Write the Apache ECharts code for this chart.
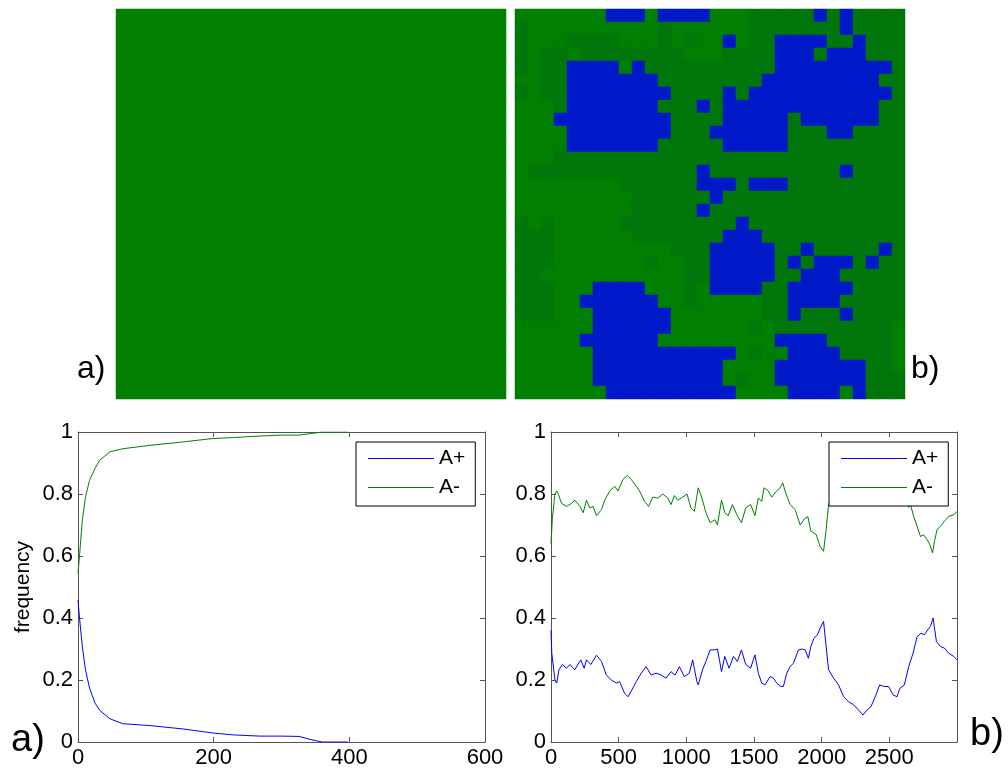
<!DOCTYPE html>
<html>
<head>
<meta charset="utf-8">
<script src="https://cdn.jsdelivr.net/npm/echarts@6/dist/echarts.min.js"></script>
<style>
  html, body { margin: 0; padding: 0; background: #fff; }
  #chart { width: 1008px; height: 773px; }
</style>
</head>
<body>
<div id="chart"></div>
<script>
// Lattice states: B = A+ site, g = A- site, d = A- site (second shade)
const latticeStart = [
  'gggggggggggggggggggggggggggggg',
  'gggggggggggggggggggggggggggggg',
  'gggggggggggggggggggggggggggggg',
  'gggggggggggggggggggggggggggggg',
  'gggggggggggggggggggggggggggggg',
  'gggggggggggggggggggggggggggggg',
  'gggggggggggggggggggggggggggggg',
  'gggggggggggggggggggggggggggggg',
  'gggggggggggggggggggggggggggggg',
  'gggggggggggggggggggggggggggggg',
  'gggggggggggggggggggggggggggggg',
  'gggggggggggggggggggggggggggggg',
  'gggggggggggggggggggggggggggggg',
  'gggggggggggggggggggggggggggggg',
  'gggggggggggggggggggggggggggggg',
  'gggggggggggggggggggggggggggggg',
  'gggggggggggggggggggggggggggggg',
  'gggggggggggggggggggggggggggggg',
  'gggggggggggggggggggggggggggggg',
  'gggggggggggggggggggggggggggggg',
  'gggggggggggggggggggggggggggggg',
  'gggggggggggggggggggggggggggggg',
  'gggggggggggggggggggggggggggggg',
  'gggggggggggggggggggggggggggggg',
  'gggggggggggggggggggggggggggggg',
  'gggggggggggggggggggggggggggggg',
  'gggggggggggggggggggggggggggggg',
  'gggggggggggggggggggggggggggggg',
  'gggggggggggggggggggggggggggggg',
  'gggggggggggggggggggggggggggggg'
];

const latticeMixed = [
  'gggggggBBBgBBBBgggdddddBdBdddd',
  'dggggggggggdggggggdddddddBdddd',
  'dgggddddgggdgdggBgddBBBBddBddd',
  'dgddgddddddddgggddddBBBdBBBddd',
  'dgddBBBBgBddddddddddBBBBBBBBBd',
  'ggddBBBBBBBddddddddBBBBBBBBBdd',
  'dgddBBBBBBBBddddBdBBBBBBBBBBBd',
  'gggdBBBBBBBdddBdBBBBBBBBBBBBdd',
  'gggBBBBBBBBBddddBBBBBdBBBBBBdd',
  'ggggBBBBBBBBdddBBBBBBdddBBdddd',
  'ggggBBBBBBBdddddBBBBBddddddddd',
  'gggddddddddddddddddddddddddddd',
  'gdddddddddddddBddddddddddBdddd',
  'ggggggggddddddBBBdBBBddddddddd',
  'gggggggggddddddBdddddddddddddd',
  'gggggggggdddddBddddddddddddddd',
  'dgdgggggdddddddddBdddddddddddd',
  'dddggggggdddddddBBBddddddddddd',
  'dddgggggggggdddBBBBBddBdddddBd',
  'dddgggggggdggddBBBBBdBdBBBdBdd',
  'ddgggggggggggddBBBBBddBBBddddd',
  'dddgggBBBBgggdgBBBBddBBBBBdddd',
  'dddggBBBBBBggdgggggddBBBBddddd',
  'dddgggBBBBBBgggggggddBdddBdddd',
  'ggggggBBBBBBggggggdgdddddddddg',
  'gggggBBBBBBgggggggggBBBBdddddg',
  'ggggggBBBBBBBBBBBgdggBBBBddddg',
  'ggggggBBBBBBBBBBggggBBBBBBBddg',
  'ggggggBBBBBBBBBBgdggBBBBBBBddd',
  'gggggggBBBBBBBBBBggggBBBBgBddd'
];

// Run a) : time steps and frequencies
const runAX = [0, 2.5, 6.4, 11, 17, 25, 32, 47, 66, 106, 155, 199, 228, 268, 300, 326, 343, 360, 398];
const runAPlus = [0.458, 0.394, 0.308, 0.233, 0.174, 0.126, 0.102, 0.075, 0.059, 0.053, 0.042, 0.029, 0.023, 0.019, 0.019, 0.018, 0.008, 0.0, 0.0];
const runAMinus = [0.544, 0.608, 0.716, 0.79, 0.844, 0.882, 0.909, 0.936, 0.946, 0.957, 0.968, 0.979, 0.982, 0.987, 0.99, 0.99, 0.995, 1.0, 1.0];

// Run b) : time steps and frequencies of A+
const runBPlusX = [0, 6, 29, 42, 59, 83, 115, 140, 176, 220, 245, 262, 294, 336, 373, 409, 446, 483, 507, 544, 569, 598, 630, 667, 703, 740, 777, 814, 850, 887, 917, 949, 985, 1022, 1047, 1078, 1088, 1120, 1145, 1176, 1206, 1230, 1260, 1284, 1316, 1348, 1377, 1407, 1439, 1475, 1507, 1532, 1557, 1581, 1619, 1643, 1668, 1698, 1717, 1742, 1767, 1791, 1828, 1853, 1878, 1902, 1920, 1944, 1969, 1989, 2014, 2033, 2051, 2088, 2125, 2162, 2199, 2236, 2273, 2305, 2335, 2364, 2396, 2428, 2463, 2495, 2527, 2557, 2577, 2611, 2643, 2675, 2705, 2734, 2759, 2784, 2804, 2823, 2848, 2878, 2907, 2939, 2976, 3000];
const runBPlus = [0.36, 0.286, 0.20, 0.19, 0.233, 0.25, 0.238, 0.25, 0.233, 0.265, 0.238, 0.265, 0.25, 0.28, 0.26, 0.216, 0.20, 0.19, 0.195, 0.157, 0.146, 0.168, 0.195, 0.222, 0.243, 0.216, 0.222, 0.216, 0.206, 0.227, 0.216, 0.243, 0.211, 0.222, 0.265, 0.195, 0.184, 0.233, 0.26, 0.297, 0.297, 0.30, 0.227, 0.276, 0.238, 0.276, 0.26, 0.297, 0.25, 0.238, 0.281, 0.222, 0.19, 0.184, 0.211, 0.206, 0.19, 0.179, 0.179, 0.222, 0.243, 0.254, 0.297, 0.30, 0.297, 0.27, 0.308, 0.335, 0.346, 0.367, 0.389, 0.308, 0.233, 0.206, 0.184, 0.146, 0.13, 0.12, 0.103, 0.087, 0.103, 0.114, 0.146, 0.184, 0.179, 0.179, 0.152, 0.146, 0.173, 0.184, 0.243, 0.286, 0.34, 0.351, 0.346, 0.362, 0.373, 0.40, 0.324, 0.308, 0.303, 0.286, 0.276, 0.265];

// Run b) : time steps and frequencies of A-
const runBMinusX = [0, 10, 29, 42, 54, 78, 115, 152, 176, 213, 238, 262, 287, 311, 336, 373, 397, 434, 471, 495, 532, 564, 593, 630, 654, 691, 721, 752, 789, 826, 863, 887, 912, 936, 973, 1005, 1034, 1059, 1088, 1113, 1145, 1176, 1211, 1230, 1260, 1284, 1309, 1341, 1373, 1407, 1439, 1475, 1507, 1532, 1557, 1574, 1606, 1631, 1668, 1693, 1712, 1737, 1767, 1804, 1841, 1873, 1898, 1920, 1959, 1989, 2014, 2033, 2051, 2088, 2125, 2162, 2199, 2236, 2273, 2305, 2335, 2364, 2396, 2428, 2463, 2495, 2527, 2557, 2577, 2611, 2643, 2656, 2680, 2705, 2730, 2754, 2779, 2799, 2819, 2836, 2853, 2878, 2907, 2939, 2976, 3000];
const runBMinus = [0.64, 0.72, 0.80, 0.81, 0.80, 0.77, 0.76, 0.77, 0.78, 0.76, 0.74, 0.78, 0.755, 0.76, 0.73, 0.75, 0.78, 0.81, 0.825, 0.81, 0.847, 0.86, 0.847, 0.825, 0.81, 0.776, 0.76, 0.79, 0.787, 0.80, 0.787, 0.766, 0.795, 0.78, 0.79, 0.80, 0.755, 0.744, 0.82, 0.79, 0.74, 0.707, 0.717, 0.70, 0.78, 0.74, 0.73, 0.766, 0.733, 0.707, 0.755, 0.766, 0.73, 0.787, 0.776, 0.82, 0.81, 0.79, 0.81, 0.82, 0.836, 0.80, 0.766, 0.75, 0.70, 0.72, 0.727, 0.68, 0.67, 0.63, 0.615, 0.685, 0.767, 0.794, 0.816, 0.854, 0.87, 0.88, 0.897, 0.913, 0.897, 0.886, 0.854, 0.816, 0.821, 0.821, 0.848, 0.854, 0.827, 0.816, 0.757, 0.766, 0.728, 0.696, 0.663, 0.668, 0.653, 0.637, 0.61, 0.653, 0.685, 0.696, 0.712, 0.728, 0.733, 0.744];

const seriesNames = ['A+', 'A-'];
const freqTicks = { min: 0, max: 1, interval: 0.2 };
const runATicks = { min: 0, max: 600, interval: 200 };
const runBTicks = { min: 0, max: 3000, interval: 500 };

const FONT = '"Liberation Sans", Arial, sans-serif';
const AXIS_COLOR = '#555';
const COLOR_PLUS = '#0000ff';
const COLOR_MINUS = '#008000';
const stateValue = { B: 0, g: 1, d: 2 };

function latticeData(rows) {
  const out = [];
  rows.forEach((row, r) => {
    for (let c = 0; c < row.length; c++) out.push([c, r, stateValue[row[c]]]);
  });
  return out;
}
function pairs(xs, ys) { return xs.map((x, i) => [x, ys[i]]); }

const cellIndex = latticeStart[0].split('').map((_, i) => i);

function hiddenCategory(gridIndex, inverse) {
  return { gridIndex, type: 'category', data: cellIndex, show: false, inverse: !!inverse,
           axisLine: { show: false }, axisTick: { show: false }, axisLabel: { show: false }, splitLine: { show: false } };
}

function valueAxis(gridIndex, ticks, position, withLabels, extra) {
  return Object.assign({
    gridIndex, type: 'value', position,
    min: ticks.min, max: ticks.max, interval: ticks.interval,
    axisLine: { show: true, onZero: false, lineStyle: { color: AXIS_COLOR, width: 1 } },
    axisTick: { show: true, inside: true, length: 5, lineStyle: { color: AXIS_COLOR, width: 1 } },
    axisLabel: { show: withLabels, color: '#000', fontFamily: FONT, fontSize: 22, margin: 5,
                 showMaxLabel: ticks.max !== 3000, formatter: v => String(v) },
    splitLine: { show: false }
  }, extra || {});
}

function lineSeries(name, data, color, axisIndex) {
  return { type: 'line', name, data, xAxisIndex: axisIndex, yAxisIndex: axisIndex,
           symbol: 'none', showSymbol: false, smooth: false, clip: true,
           lineStyle: { color, width: 1 }, itemStyle: { color }, emphasis: { disabled: true }, z: 2 };
}

function legendAt(left, top) {
  return {
    orient: 'vertical', left, top, data: seriesNames, selectedMode: false,
    icon: 'rect', itemWidth: 66, itemHeight: 1, itemGap: 8,
    padding: [6, 10, 8, 12],
    backgroundColor: '#fff', borderColor: '#000', borderWidth: 1, borderRadius: 0,
    textStyle: { color: '#000', fontFamily: FONT, fontSize: 21, lineHeight: 21 },
    z: 10
  };
}

function panelLabel(text, x, y, size) {
  return { type: 'text', x, y, z: 20,
           style: { text, fill: '#000', font: size + 'px ' + FONT, verticalAlign: 'middle', align: 'left' } };
}

const chart = echarts.init(document.getElementById('chart'), null, { renderer: 'canvas' });
chart.setOption({
  animation: false,
  backgroundColor: '#fff',
  grid: [
    { left: 116, top: 9, width: 390, height: 390, outerBoundsMode: 'none', containLabel: false },
    { left: 515, top: 9, width: 390, height: 390, outerBoundsMode: 'none', containLabel: false },
    { left: 78, top: 432, width: 407, height: 310, outerBoundsMode: 'none', containLabel: false },
    { left: 551, top: 432, width: 406, height: 310, outerBoundsMode: 'none', containLabel: false }
  ],
  xAxis: [
    hiddenCategory(0), hiddenCategory(1),
    valueAxis(2, runATicks, 'bottom', true),
    valueAxis(2, runATicks, 'top', false),
    valueAxis(3, runBTicks, 'bottom', true),
    valueAxis(3, runBTicks, 'top', false)
  ],
  yAxis: [
    hiddenCategory(0, true), hiddenCategory(1, true),
    valueAxis(2, freqTicks, 'left', true, {
      name: 'frequency', nameLocation: 'middle', nameRotate: 90, nameGap: 44,
      nameTextStyle: { color: '#000', fontFamily: FONT, fontSize: 21 }
    }),
    valueAxis(2, freqTicks, 'right', false),
    valueAxis(3, freqTicks, 'left', true),
    valueAxis(3, freqTicks, 'right', false)
  ],
  visualMap: {
    type: 'piecewise', show: false, dimension: 2, seriesIndex: [0, 1],
    pieces: [
      { value: 0, color: '#0019c8' },
      { value: 1, color: '#007f00' },
      { value: 2, color: '#00760b' }
    ]
  },
  legend: [legendAt(356, 442), legendAt(829, 442)],
  series: [
    { type: 'heatmap', xAxisIndex: 0, yAxisIndex: 0, data: latticeData(latticeStart),
      emphasis: { disabled: true }, progressive: 0, label: { show: false } },
    { type: 'heatmap', xAxisIndex: 1, yAxisIndex: 1, data: latticeData(latticeMixed),
      emphasis: { disabled: true }, progressive: 0, label: { show: false } },
    lineSeries(seriesNames[0], pairs(runAX, runAPlus), COLOR_PLUS, 2),
    lineSeries(seriesNames[1], pairs(runAX, runAMinus), COLOR_MINUS, 2),
    lineSeries(seriesNames[0], pairs(runBPlusX, runBPlus), COLOR_PLUS, 4),
    lineSeries(seriesNames[1], pairs(runBMinusX, runBMinus), COLOR_MINUS, 4)
  ],
  graphic: [
    panelLabel('a)', 77, 369, 32),
    panelLabel('b)', 911, 369, 32),
    panelLabel('a)', 11, 741, 38),
    panelLabel('b)', 970, 735, 38)
  ]
});
</script>
</body>
</html>
